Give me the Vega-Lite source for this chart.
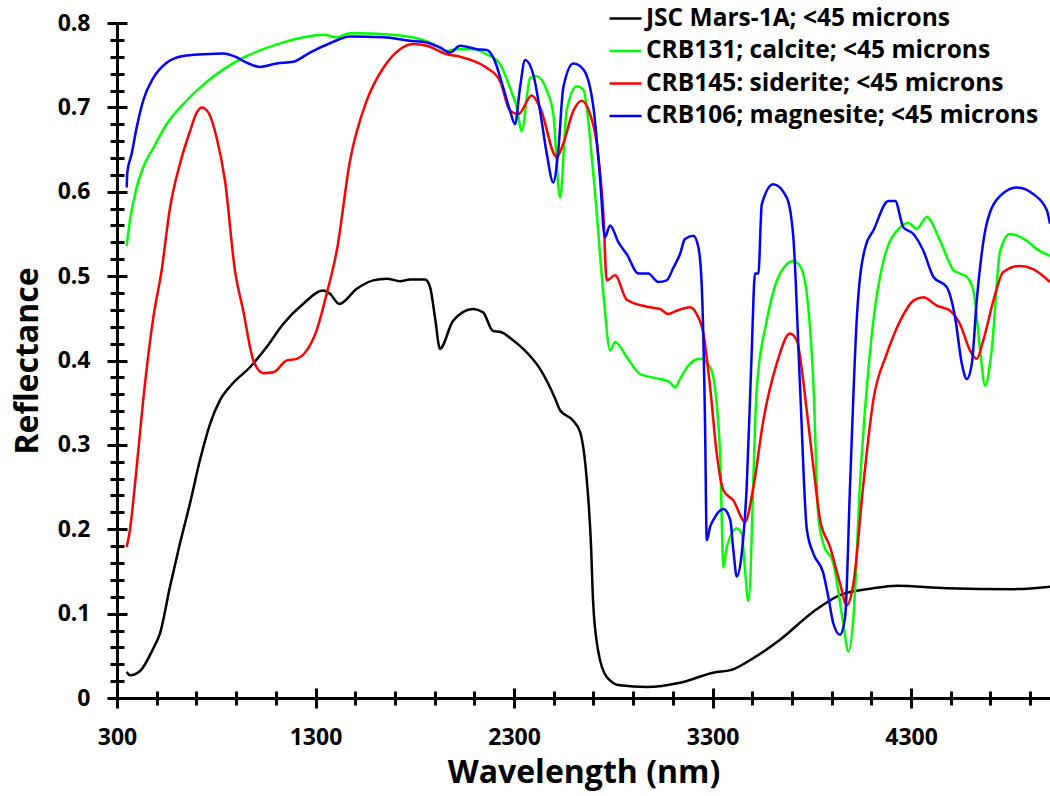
{
"$schema": "https://vega.github.io/schema/vega-lite/v6.json",
"width": 933, "height": 675,
"autosize": {"type": "none"},
"padding": {"left": 117, "top": 23, "right": 0, "bottom": 98},
"background": "white",
"config": {"view": {"stroke": null}, "axis": {"grid": false}},
"data": {"values": [
{"series":"JSC Mars-1A; <45 microns","wl":349,"r":0.031},{"series":"JSC Mars-1A; <45 microns","wl":365,"r":0.027},{"series":"JSC Mars-1A; <45 microns","wl":416,"r":0.032},{"series":"JSC Mars-1A; <45 microns","wl":483,"r":0.059},{"series":"JSC Mars-1A; <45 microns","wl":517,"r":0.077},{"series":"JSC Mars-1A; <45 microns","wl":567,"r":0.132},{"series":"JSC Mars-1A; <45 microns","wl":617,"r":0.183},{"series":"JSC Mars-1A; <45 microns","wl":668,"r":0.231},{"series":"JSC Mars-1A; <45 microns","wl":718,"r":0.282},{"series":"JSC Mars-1A; <45 microns","wl":769,"r":0.325},{"series":"JSC Mars-1A; <45 microns","wl":819,"r":0.353},{"series":"JSC Mars-1A; <45 microns","wl":884,"r":0.373},{"series":"JSC Mars-1A; <45 microns","wl":970,"r":0.392},{"series":"JSC Mars-1A; <45 microns","wl":1054,"r":0.416},{"series":"JSC Mars-1A; <45 microns","wl":1136,"r":0.443},{"series":"JSC Mars-1A; <45 microns","wl":1237,"r":0.467},{"series":"JSC Mars-1A; <45 microns","wl":1338,"r":0.483},{"series":"JSC Mars-1A; <45 microns","wl":1373,"r":0.479},{"series":"JSC Mars-1A; <45 microns","wl":1420,"r":0.467},{"series":"JSC Mars-1A; <45 microns","wl":1508,"r":0.485},{"series":"JSC Mars-1A; <45 microns","wl":1590,"r":0.495},{"series":"JSC Mars-1A; <45 microns","wl":1659,"r":0.497},{"series":"JSC Mars-1A; <45 microns","wl":1726,"r":0.494},{"series":"JSC Mars-1A; <45 microns","wl":1776,"r":0.496},{"series":"JSC Mars-1A; <45 microns","wl":1852,"r":0.496},{"series":"JSC Mars-1A; <45 microns","wl":1877,"r":0.487},{"series":"JSC Mars-1A; <45 microns","wl":1902,"r":0.451},{"series":"JSC Mars-1A; <45 microns","wl":1927,"r":0.414},{"series":"JSC Mars-1A; <45 microns","wl":1993,"r":0.447},{"series":"JSC Mars-1A; <45 microns","wl":2094,"r":0.461},{"series":"JSC Mars-1A; <45 microns","wl":2144,"r":0.457},{"series":"JSC Mars-1A; <45 microns","wl":2194,"r":0.435},{"series":"JSC Mars-1A; <45 microns","wl":2230,"r":0.434},{"series":"JSC Mars-1A; <45 microns","wl":2295,"r":0.424},{"series":"JSC Mars-1A; <45 microns","wl":2345,"r":0.414},{"series":"JSC Mars-1A; <45 microns","wl":2431,"r":0.39},{"series":"JSC Mars-1A; <45 microns","wl":2507,"r":0.355},{"series":"JSC Mars-1A; <45 microns","wl":2532,"r":0.341},{"series":"JSC Mars-1A; <45 microns","wl":2597,"r":0.329},{"series":"JSC Mars-1A; <45 microns","wl":2633,"r":0.315},{"series":"JSC Mars-1A; <45 microns","wl":2666,"r":0.26},{"series":"JSC Mars-1A; <45 microns","wl":2688,"r":0.18},{"series":"JSC Mars-1A; <45 microns","wl":2698,"r":0.116},{"series":"JSC Mars-1A; <45 microns","wl":2723,"r":0.057},{"series":"JSC Mars-1A; <45 microns","wl":2767,"r":0.025},{"series":"JSC Mars-1A; <45 microns","wl":2834,"r":0.015},{"series":"JSC Mars-1A; <45 microns","wl":2968,"r":0.013},{"series":"JSC Mars-1A; <45 microns","wl":3136,"r":0.018},{"series":"JSC Mars-1A; <45 microns","wl":3303,"r":0.03},{"series":"JSC Mars-1A; <45 microns","wl":3403,"r":0.034},{"series":"JSC Mars-1A; <45 microns","wl":3504,"r":0.047},{"series":"JSC Mars-1A; <45 microns","wl":3640,"r":0.069},{"series":"JSC Mars-1A; <45 microns","wl":3806,"r":0.102},{"series":"JSC Mars-1A; <45 microns","wl":3942,"r":0.122},{"series":"JSC Mars-1A; <45 microns","wl":4109,"r":0.13},{"series":"JSC Mars-1A; <45 microns","wl":4228,"r":0.133},{"series":"JSC Mars-1A; <45 microns","wl":4480,"r":0.13},{"series":"JSC Mars-1A; <45 microns","wl":4814,"r":0.129},{"series":"JSC Mars-1A; <45 microns","wl":5000,"r":0.132},
{"series":"CRB131; calcite; <45 microns","wl":349,"r":0.536},{"series":"CRB131; calcite; <45 microns","wl":365,"r":0.566},{"series":"CRB131; calcite; <45 microns","wl":399,"r":0.605},{"series":"CRB131; calcite; <45 microns","wl":432,"r":0.629},{"series":"CRB131; calcite; <45 microns","wl":483,"r":0.652},{"series":"CRB131; calcite; <45 microns","wl":550,"r":0.68},{"series":"CRB131; calcite; <45 microns","wl":634,"r":0.704},{"series":"CRB131; calcite; <45 microns","wl":735,"r":0.727},{"series":"CRB131; calcite; <45 microns","wl":836,"r":0.745},{"series":"CRB131; calcite; <45 microns","wl":936,"r":0.759},{"series":"CRB131; calcite; <45 microns","wl":1037,"r":0.769},{"series":"CRB131; calcite; <45 microns","wl":1138,"r":0.777},{"series":"CRB131; calcite; <45 microns","wl":1239,"r":0.783},{"series":"CRB131; calcite; <45 microns","wl":1339,"r":0.786},{"series":"CRB131; calcite; <45 microns","wl":1407,"r":0.783},{"series":"CRB131; calcite; <45 microns","wl":1474,"r":0.788},{"series":"CRB131; calcite; <45 microns","wl":1524,"r":0.788},{"series":"CRB131; calcite; <45 microns","wl":1690,"r":0.786},{"series":"CRB131; calcite; <45 microns","wl":1827,"r":0.781},{"series":"CRB131; calcite; <45 microns","wl":1892,"r":0.775},{"series":"CRB131; calcite; <45 microns","wl":1961,"r":0.767},{"series":"CRB131; calcite; <45 microns","wl":2011,"r":0.769},{"series":"CRB131; calcite; <45 microns","wl":2094,"r":0.769},{"series":"CRB131; calcite; <45 microns","wl":2162,"r":0.763},{"series":"CRB131; calcite; <45 microns","wl":2230,"r":0.751},{"series":"CRB131; calcite; <45 microns","wl":2280,"r":0.723},{"series":"CRB131; calcite; <45 microns","wl":2314,"r":0.7},{"series":"CRB131; calcite; <45 microns","wl":2339,"r":0.672},{"series":"CRB131; calcite; <45 microns","wl":2381,"r":0.735},{"series":"CRB131; calcite; <45 microns","wl":2414,"r":0.737},{"series":"CRB131; calcite; <45 microns","wl":2465,"r":0.72},{"series":"CRB131; calcite; <45 microns","wl":2498,"r":0.692},{"series":"CRB131; calcite; <45 microns","wl":2532,"r":0.593},{"series":"CRB131; calcite; <45 microns","wl":2565,"r":0.696},{"series":"CRB131; calcite; <45 microns","wl":2616,"r":0.725},{"series":"CRB131; calcite; <45 microns","wl":2649,"r":0.721},{"series":"CRB131; calcite; <45 microns","wl":2700,"r":0.62},{"series":"CRB131; calcite; <45 microns","wl":2750,"r":0.48},{"series":"CRB131; calcite; <45 microns","wl":2784,"r":0.412},{"series":"CRB131; calcite; <45 microns","wl":2809,"r":0.422},{"series":"CRB131; calcite; <45 microns","wl":2868,"r":0.404},{"series":"CRB131; calcite; <45 microns","wl":2935,"r":0.384},{"series":"CRB131; calcite; <45 microns","wl":3036,"r":0.378},{"series":"CRB131; calcite; <45 microns","wl":3086,"r":0.374},{"series":"CRB131; calcite; <45 microns","wl":3111,"r":0.368},{"series":"CRB131; calcite; <45 microns","wl":3136,"r":0.378},{"series":"CRB131; calcite; <45 microns","wl":3186,"r":0.396},{"series":"CRB131; calcite; <45 microns","wl":3237,"r":0.402},{"series":"CRB131; calcite; <45 microns","wl":3288,"r":0.392},{"series":"CRB131; calcite; <45 microns","wl":3321,"r":0.349},{"series":"CRB131; calcite; <45 microns","wl":3338,"r":0.29},{"series":"CRB131; calcite; <45 microns","wl":3355,"r":0.155},{"series":"CRB131; calcite; <45 microns","wl":3372,"r":0.179},{"series":"CRB131; calcite; <45 microns","wl":3422,"r":0.201},{"series":"CRB131; calcite; <45 microns","wl":3447,"r":0.195},{"series":"CRB131; calcite; <45 microns","wl":3464,"r":0.151},{"series":"CRB131; calcite; <45 microns","wl":3480,"r":0.115},{"series":"CRB131; calcite; <45 microns","wl":3523,"r":0.368},{"series":"CRB131; calcite; <45 microns","wl":3573,"r":0.447},{"series":"CRB131; calcite; <45 microns","wl":3640,"r":0.503},{"series":"CRB131; calcite; <45 microns","wl":3707,"r":0.518},{"series":"CRB131; calcite; <45 microns","wl":3741,"r":0.512},{"series":"CRB131; calcite; <45 microns","wl":3775,"r":0.479},{"series":"CRB131; calcite; <45 microns","wl":3808,"r":0.372},{"series":"CRB131; calcite; <45 microns","wl":3833,"r":0.215},{"series":"CRB131; calcite; <45 microns","wl":3858,"r":0.183},{"series":"CRB131; calcite; <45 microns","wl":3909,"r":0.159},{"series":"CRB131; calcite; <45 microns","wl":3959,"r":0.088},{"series":"CRB131; calcite; <45 microns","wl":3984,"r":0.055},{"series":"CRB131; calcite; <45 microns","wl":4010,"r":0.096},{"series":"CRB131; calcite; <45 microns","wl":4043,"r":0.254},{"series":"CRB131; calcite; <45 microns","wl":4094,"r":0.412},{"series":"CRB131; calcite; <45 microns","wl":4161,"r":0.518},{"series":"CRB131; calcite; <45 microns","wl":4245,"r":0.558},{"series":"CRB131; calcite; <45 microns","wl":4287,"r":0.563},{"series":"CRB131; calcite; <45 microns","wl":4329,"r":0.556},{"series":"CRB131; calcite; <45 microns","wl":4379,"r":0.57},{"series":"CRB131; calcite; <45 microns","wl":4446,"r":0.542},{"series":"CRB131; calcite; <45 microns","wl":4514,"r":0.507},{"series":"CRB131; calcite; <45 microns","wl":4581,"r":0.499},{"series":"CRB131; calcite; <45 microns","wl":4614,"r":0.483},{"series":"CRB131; calcite; <45 microns","wl":4648,"r":0.412},{"series":"CRB131; calcite; <45 microns","wl":4673,"r":0.37},{"series":"CRB131; calcite; <45 microns","wl":4706,"r":0.412},{"series":"CRB131; calcite; <45 microns","wl":4749,"r":0.53},{"series":"CRB131; calcite; <45 microns","wl":4799,"r":0.55},{"series":"CRB131; calcite; <45 microns","wl":4883,"r":0.542},{"series":"CRB131; calcite; <45 microns","wl":4934,"r":0.532},{"series":"CRB131; calcite; <45 microns","wl":5000,"r":0.524},
{"series":"CRB145: siderite; <45 microns","wl":349,"r":0.179},{"series":"CRB145: siderite; <45 microns","wl":365,"r":0.199},{"series":"CRB145: siderite; <45 microns","wl":391,"r":0.254},{"series":"CRB145: siderite; <45 microns","wl":432,"r":0.353},{"series":"CRB145: siderite; <45 microns","wl":483,"r":0.451},{"series":"CRB145: siderite; <45 microns","wl":525,"r":0.507},{"series":"CRB145: siderite; <45 microns","wl":567,"r":0.581},{"series":"CRB145: siderite; <45 microns","wl":617,"r":0.633},{"series":"CRB145: siderite; <45 microns","wl":668,"r":0.672},{"series":"CRB145: siderite; <45 microns","wl":702,"r":0.694},{"series":"CRB145: siderite; <45 microns","wl":727,"r":0.7},{"series":"CRB145: siderite; <45 microns","wl":760,"r":0.694},{"series":"CRB145: siderite; <45 microns","wl":802,"r":0.664},{"series":"CRB145: siderite; <45 microns","wl":844,"r":0.613},{"series":"CRB145: siderite; <45 microns","wl":894,"r":0.507},{"series":"CRB145: siderite; <45 microns","wl":936,"r":0.459},{"series":"CRB145: siderite; <45 microns","wl":987,"r":0.4},{"series":"CRB145: siderite; <45 microns","wl":1037,"r":0.385},{"series":"CRB145: siderite; <45 microns","wl":1087,"r":0.386},{"series":"CRB145: siderite; <45 microns","wl":1155,"r":0.4},{"series":"CRB145: siderite; <45 microns","wl":1205,"r":0.402},{"series":"CRB145: siderite; <45 microns","wl":1256,"r":0.412},{"series":"CRB145: siderite; <45 microns","wl":1306,"r":0.436},{"series":"CRB145: siderite; <45 microns","wl":1356,"r":0.479},{"series":"CRB145: siderite; <45 microns","wl":1407,"r":0.53},{"series":"CRB145: siderite; <45 microns","wl":1474,"r":0.637},{"series":"CRB145: siderite; <45 microns","wl":1558,"r":0.708},{"series":"CRB145: siderite; <45 microns","wl":1642,"r":0.747},{"series":"CRB145: siderite; <45 microns","wl":1726,"r":0.769},{"series":"CRB145: siderite; <45 microns","wl":1793,"r":0.775},{"series":"CRB145: siderite; <45 microns","wl":1860,"r":0.773},{"series":"CRB145: siderite; <45 microns","wl":1961,"r":0.763},{"series":"CRB145: siderite; <45 microns","wl":2028,"r":0.76},{"series":"CRB145: siderite; <45 microns","wl":2095,"r":0.755},{"series":"CRB145: siderite; <45 microns","wl":2162,"r":0.747},{"series":"CRB145: siderite; <45 microns","wl":2230,"r":0.731},{"series":"CRB145: siderite; <45 microns","wl":2280,"r":0.696},{"series":"CRB145: siderite; <45 microns","wl":2322,"r":0.692},{"series":"CRB145: siderite; <45 microns","wl":2389,"r":0.714},{"series":"CRB145: siderite; <45 microns","wl":2431,"r":0.7},{"series":"CRB145: siderite; <45 microns","wl":2515,"r":0.641},{"series":"CRB145: siderite; <45 microns","wl":2548,"r":0.657},{"series":"CRB145: siderite; <45 microns","wl":2599,"r":0.696},{"series":"CRB145: siderite; <45 microns","wl":2641,"r":0.708},{"series":"CRB145: siderite; <45 microns","wl":2683,"r":0.692},{"series":"CRB145: siderite; <45 microns","wl":2717,"r":0.657},{"series":"CRB145: siderite; <45 microns","wl":2750,"r":0.574},{"series":"CRB145: siderite; <45 microns","wl":2767,"r":0.495},{"series":"CRB145: siderite; <45 microns","wl":2809,"r":0.501},{"series":"CRB145: siderite; <45 microns","wl":2868,"r":0.472},{"series":"CRB145: siderite; <45 microns","wl":2985,"r":0.463},{"series":"CRB145: siderite; <45 microns","wl":3036,"r":0.461},{"series":"CRB145: siderite; <45 microns","wl":3077,"r":0.455},{"series":"CRB145: siderite; <45 microns","wl":3120,"r":0.459},{"series":"CRB145: siderite; <45 microns","wl":3186,"r":0.463},{"series":"CRB145: siderite; <45 microns","wl":3220,"r":0.455},{"series":"CRB145: siderite; <45 microns","wl":3254,"r":0.432},{"series":"CRB145: siderite; <45 microns","wl":3288,"r":0.368},{"series":"CRB145: siderite; <45 microns","wl":3321,"r":0.29},{"series":"CRB145: siderite; <45 microns","wl":3355,"r":0.246},{"series":"CRB145: siderite; <45 microns","wl":3405,"r":0.234},{"series":"CRB145: siderite; <45 microns","wl":3464,"r":0.209},{"series":"CRB145: siderite; <45 microns","wl":3506,"r":0.25},{"series":"CRB145: siderite; <45 microns","wl":3556,"r":0.329},{"series":"CRB145: siderite; <45 microns","wl":3623,"r":0.396},{"series":"CRB145: siderite; <45 microns","wl":3690,"r":0.432},{"series":"CRB145: siderite; <45 microns","wl":3724,"r":0.424},{"series":"CRB145: siderite; <45 microns","wl":3775,"r":0.34},{"series":"CRB145: siderite; <45 microns","wl":3808,"r":0.274},{"series":"CRB145: siderite; <45 microns","wl":3842,"r":0.211},{"series":"CRB145: siderite; <45 microns","wl":3892,"r":0.179},{"series":"CRB145: siderite; <45 microns","wl":3942,"r":0.136},{"series":"CRB145: siderite; <45 microns","wl":3976,"r":0.11},{"series":"CRB145: siderite; <45 microns","wl":4010,"r":0.136},{"series":"CRB145: siderite; <45 microns","wl":4060,"r":0.254},{"series":"CRB145: siderite; <45 microns","wl":4110,"r":0.353},{"series":"CRB145: siderite; <45 microns","wl":4178,"r":0.408},{"series":"CRB145: siderite; <45 microns","wl":4245,"r":0.447},{"series":"CRB145: siderite; <45 microns","wl":4312,"r":0.471},{"series":"CRB145: siderite; <45 microns","wl":4362,"r":0.475},{"series":"CRB145: siderite; <45 microns","wl":4430,"r":0.465},{"series":"CRB145: siderite; <45 microns","wl":4497,"r":0.459},{"series":"CRB145: siderite; <45 microns","wl":4547,"r":0.443},{"series":"CRB145: siderite; <45 microns","wl":4597,"r":0.412},{"series":"CRB145: siderite; <45 microns","wl":4631,"r":0.402},{"series":"CRB145: siderite; <45 microns","wl":4664,"r":0.424},{"series":"CRB145: siderite; <45 microns","wl":4715,"r":0.471},{"series":"CRB145: siderite; <45 microns","wl":4765,"r":0.505},{"series":"CRB145: siderite; <45 microns","wl":4849,"r":0.512},{"series":"CRB145: siderite; <45 microns","wl":4917,"r":0.508},{"series":"CRB145: siderite; <45 microns","wl":5000,"r":0.493},
{"series":"CRB106; magnesite; <45 microns","wl":349,"r":0.605},{"series":"CRB106; magnesite; <45 microns","wl":352,"r":0.623},{"series":"CRB106; magnesite; <45 microns","wl":374,"r":0.645},{"series":"CRB106; magnesite; <45 microns","wl":399,"r":0.676},{"series":"CRB106; magnesite; <45 microns","wl":432,"r":0.708},{"series":"CRB106; magnesite; <45 microns","wl":483,"r":0.735},{"series":"CRB106; magnesite; <45 microns","wl":550,"r":0.753},{"series":"CRB106; magnesite; <45 microns","wl":634,"r":0.761},{"series":"CRB106; magnesite; <45 microns","wl":735,"r":0.763},{"series":"CRB106; magnesite; <45 microns","wl":836,"r":0.764},{"series":"CRB106; magnesite; <45 microns","wl":886,"r":0.761},{"series":"CRB106; magnesite; <45 microns","wl":953,"r":0.753},{"series":"CRB106; magnesite; <45 microns","wl":1020,"r":0.748},{"series":"CRB106; magnesite; <45 microns","wl":1105,"r":0.752},{"series":"CRB106; magnesite; <45 microns","wl":1188,"r":0.754},{"series":"CRB106; magnesite; <45 microns","wl":1272,"r":0.765},{"series":"CRB106; magnesite; <45 microns","wl":1373,"r":0.776},{"series":"CRB106; magnesite; <45 microns","wl":1474,"r":0.784},{"series":"CRB106; magnesite; <45 microns","wl":1642,"r":0.783},{"series":"CRB106; magnesite; <45 microns","wl":1776,"r":0.779},{"series":"CRB106; magnesite; <45 microns","wl":1860,"r":0.777},{"series":"CRB106; magnesite; <45 microns","wl":1927,"r":0.771},{"series":"CRB106; magnesite; <45 microns","wl":1978,"r":0.765},{"series":"CRB106; magnesite; <45 microns","wl":2028,"r":0.773},{"series":"CRB106; magnesite; <45 microns","wl":2112,"r":0.769},{"series":"CRB106; magnesite; <45 microns","wl":2162,"r":0.768},{"series":"CRB106; magnesite; <45 microns","wl":2196,"r":0.759},{"series":"CRB106; magnesite; <45 microns","wl":2246,"r":0.723},{"series":"CRB106; magnesite; <45 microns","wl":2280,"r":0.696},{"series":"CRB106; magnesite; <45 microns","wl":2305,"r":0.68},{"series":"CRB106; magnesite; <45 microns","wl":2330,"r":0.723},{"series":"CRB106; magnesite; <45 microns","wl":2356,"r":0.756},{"series":"CRB106; magnesite; <45 microns","wl":2397,"r":0.739},{"series":"CRB106; magnesite; <45 microns","wl":2431,"r":0.696},{"series":"CRB106; magnesite; <45 microns","wl":2465,"r":0.645},{"series":"CRB106; magnesite; <45 microns","wl":2498,"r":0.611},{"series":"CRB106; magnesite; <45 microns","wl":2523,"r":0.649},{"series":"CRB106; magnesite; <45 microns","wl":2548,"r":0.723},{"series":"CRB106; magnesite; <45 microns","wl":2599,"r":0.752},{"series":"CRB106; magnesite; <45 microns","wl":2649,"r":0.745},{"series":"CRB106; magnesite; <45 microns","wl":2700,"r":0.7},{"series":"CRB106; magnesite; <45 microns","wl":2733,"r":0.617},{"series":"CRB106; magnesite; <45 microns","wl":2758,"r":0.546},{"series":"CRB106; magnesite; <45 microns","wl":2784,"r":0.56},{"series":"CRB106; magnesite; <45 microns","wl":2826,"r":0.54},{"series":"CRB106; magnesite; <45 microns","wl":2868,"r":0.526},{"series":"CRB106; magnesite; <45 microns","wl":2927,"r":0.503},{"series":"CRB106; magnesite; <45 microns","wl":2976,"r":0.503},{"series":"CRB106; magnesite; <45 microns","wl":3027,"r":0.493},{"series":"CRB106; magnesite; <45 microns","wl":3069,"r":0.495},{"series":"CRB106; magnesite; <45 microns","wl":3103,"r":0.51},{"series":"CRB106; magnesite; <45 microns","wl":3136,"r":0.526},{"series":"CRB106; magnesite; <45 microns","wl":3161,"r":0.544},{"series":"CRB106; magnesite; <45 microns","wl":3203,"r":0.548},{"series":"CRB106; magnesite; <45 microns","wl":3229,"r":0.534},{"series":"CRB106; magnesite; <45 microns","wl":3246,"r":0.487},{"series":"CRB106; magnesite; <45 microns","wl":3262,"r":0.329},{"series":"CRB106; magnesite; <45 microns","wl":3271,"r":0.187},{"series":"CRB106; magnesite; <45 microns","wl":3288,"r":0.203},{"series":"CRB106; magnesite; <45 microns","wl":3304,"r":0.211},{"series":"CRB106; magnesite; <45 microns","wl":3355,"r":0.224},{"series":"CRB106; magnesite; <45 microns","wl":3389,"r":0.211},{"series":"CRB106; magnesite; <45 microns","wl":3405,"r":0.175},{"series":"CRB106; magnesite; <45 microns","wl":3422,"r":0.144},{"series":"CRB106; magnesite; <45 microns","wl":3447,"r":0.171},{"series":"CRB106; magnesite; <45 microns","wl":3472,"r":0.25},{"series":"CRB106; magnesite; <45 microns","wl":3497,"r":0.408},{"series":"CRB106; magnesite; <45 microns","wl":3514,"r":0.503},{"series":"CRB106; magnesite; <45 microns","wl":3531,"r":0.503},{"series":"CRB106; magnesite; <45 microns","wl":3548,"r":0.585},{"series":"CRB106; magnesite; <45 microns","wl":3606,"r":0.609},{"series":"CRB106; magnesite; <45 microns","wl":3674,"r":0.593},{"series":"CRB106; magnesite; <45 microns","wl":3707,"r":0.546},{"series":"CRB106; magnesite; <45 microns","wl":3741,"r":0.368},{"series":"CRB106; magnesite; <45 microns","wl":3775,"r":0.2},{"series":"CRB106; magnesite; <45 microns","wl":3808,"r":0.171},{"series":"CRB106; magnesite; <45 microns","wl":3858,"r":0.148},{"series":"CRB106; magnesite; <45 microns","wl":3883,"r":0.12},{"series":"CRB106; magnesite; <45 microns","wl":3909,"r":0.088},{"series":"CRB106; magnesite; <45 microns","wl":3942,"r":0.075},{"series":"CRB106; magnesite; <45 microns","wl":3968,"r":0.096},{"series":"CRB106; magnesite; <45 microns","wl":3993,"r":0.254},{"series":"CRB106; magnesite; <45 microns","wl":4027,"r":0.451},{"series":"CRB106; magnesite; <45 microns","wl":4069,"r":0.534},{"series":"CRB106; magnesite; <45 microns","wl":4110,"r":0.554},{"series":"CRB106; magnesite; <45 microns","wl":4186,"r":0.589},{"series":"CRB106; magnesite; <45 microns","wl":4220,"r":0.589},{"series":"CRB106; magnesite; <45 microns","wl":4261,"r":0.558},{"series":"CRB106; magnesite; <45 microns","wl":4312,"r":0.55},{"series":"CRB106; magnesite; <45 microns","wl":4362,"r":0.53},{"series":"CRB106; magnesite; <45 microns","wl":4413,"r":0.499},{"series":"CRB106; magnesite; <45 microns","wl":4480,"r":0.487},{"series":"CRB106; magnesite; <45 microns","wl":4522,"r":0.451},{"series":"CRB106; magnesite; <45 microns","wl":4556,"r":0.396},{"series":"CRB106; magnesite; <45 microns","wl":4581,"r":0.378},{"series":"CRB106; magnesite; <45 microns","wl":4606,"r":0.396},{"series":"CRB106; magnesite; <45 microns","wl":4631,"r":0.471},{"series":"CRB106; magnesite; <45 microns","wl":4681,"r":0.562},{"series":"CRB106; magnesite; <45 microns","wl":4749,"r":0.595},{"series":"CRB106; magnesite; <45 microns","wl":4833,"r":0.605},{"series":"CRB106; magnesite; <45 microns","wl":4917,"r":0.597},{"series":"CRB106; magnesite; <45 microns","wl":4984,"r":0.578},{"series":"CRB106; magnesite; <45 microns","wl":5000,"r":0.562}
]},
"layer": [
{
"mark": {"type": "line", "strokeWidth": 2.5, "interpolate": "monotone"},
"encoding": {
"x": {"field": "wl", "type": "quantitative",
"scale": {"domain": [300, 5000], "nice": false, "zero": false},
"axis": {"orient": "bottom",
"values": [300,500,700,900,1100,1300,1500,1700,1900,2100,2300,2500,2700,2900,3100,3300,3500,3700,3900,4100,4300,4500,4700,4900],
"format": "d",
"labelExpr": "(datum.value - 300) % 1000 == 0 ? datum.label : ''",
"tickSize": {"condition": {"test": "(datum.value - 300) % 1000 == 0", "value": 10}, "value": 7},
"tickWidth": 3, "tickColor": "black", "domainWidth": 3, "domainColor": "black",
"labelFont": "Open Sans", "labelFontSize": 23, "labelFontWeight": "bold", "labelColor": "black",
"labelPadding": 18, "labelFlush": false, "labelOverlap": false,
"title": "Wavelength (nm)", "titleFont": "Open Sans", "titleFontSize": 32, "titleFontWeight": "bold", "titleColor": "black",
"titleY": 84, "titleBaseline": "alphabetic"}},
"y": {"field": "r", "type": "quantitative",
"scale": {"domain": [0, 0.8], "nice": false},
"axis": {"orient": "left",
"values": [0,0.02,0.04,0.06,0.08,0.1,0.12,0.14,0.16,0.18,0.2,0.22,0.24,0.26,0.28,0.3,0.32,0.34,0.36,0.38,0.4,0.42,0.44,0.46,0.48,0.5,0.52,0.54,0.56,0.58,0.6,0.62,0.64,0.66,0.68,0.7,0.72,0.74,0.76,0.78,0.8],
"labelExpr": "abs(datum.value*10 - round(datum.value*10)) < 0.001 ? format(datum.value, '.1~f') : ''",
"tickSize": {"condition": {"test": "abs(datum.value*10 - round(datum.value*10)) < 0.001", "value": 10}, "value": 7},
"tickWidth": 3, "tickColor": "black", "domainWidth": 3, "domainColor": "black",
"labelFont": "Open Sans", "labelFontSize": 23, "labelFontWeight": "bold", "labelColor": "black",
"labelPadding": 17, "labelFlush": false, "labelOverlap": false,
"title": "Reflectance", "titleFont": "Open Sans", "titleFontSize": 32, "titleFontWeight": "bold", "titleColor": "black",
"titleX": -80, "titleBaseline": "alphabetic"}},
"color": {"field": "series", "type": "nominal",
"scale": {"domain": ["JSC Mars-1A; <45 microns", "CRB131; calcite; <45 microns", "CRB145: siderite; <45 microns", "CRB106; magnesite; <45 microns"],
"range": ["#000000", "#00ff00", "#ff0000", "#0000ff"]},
"legend": {"orient": "none", "legendX": 491, "legendY": -22, "title": null, "padding": 0,
"symbolType": "stroke", "symbolSize": 1024, "symbolStrokeWidth": 2.5,
"labelFont": "Open Sans", "labelFontSize": 24.5, "labelFontWeight": "bold", "labelColor": "black",
"labelOffset": 3, "rowPadding": 3.5, "labelLimit": 0}}
}
},
{
"mark": {"type": "line", "opacity": 0},
"encoding": {
"x": {"field": "wl", "type": "quantitative",
"axis": {"orient": "top", "offset": -675,
"values": [300,500,700,900,1100,1300,1500,1700,1900,2100,2300,2500,2700,2900,3100,3300,3500,3700,3900,4100,4300,4500,4700,4900],
"labels": false, "domain": false, "title": null,
"tickSize": {"condition": {"test": "(datum.value - 300) % 1000 == 0", "value": 10}, "value": 7},
"tickWidth": 3, "tickColor": "black"}},
"y": {"field": "r", "type": "quantitative",
"axis": {"orient": "right", "offset": -933,
"values": [0,0.02,0.04,0.06,0.08,0.1,0.12,0.14,0.16,0.18,0.2,0.22,0.24,0.26,0.28,0.3,0.32,0.34,0.36,0.38,0.4,0.42,0.44,0.46,0.48,0.5,0.52,0.54,0.56,0.58,0.6,0.62,0.64,0.66,0.68,0.7,0.72,0.74,0.76,0.78,0.8],
"labels": false, "domain": false, "title": null,
"tickSize": {"condition": {"test": "abs(datum.value*10 - round(datum.value*10)) < 0.001", "value": 10}, "value": 7},
"tickWidth": 3, "tickColor": "black"}},
"detail": {"field": "series", "type": "nominal"}
}
}
],
"resolve": {"axis": {"x": "independent", "y": "independent"}}
}
